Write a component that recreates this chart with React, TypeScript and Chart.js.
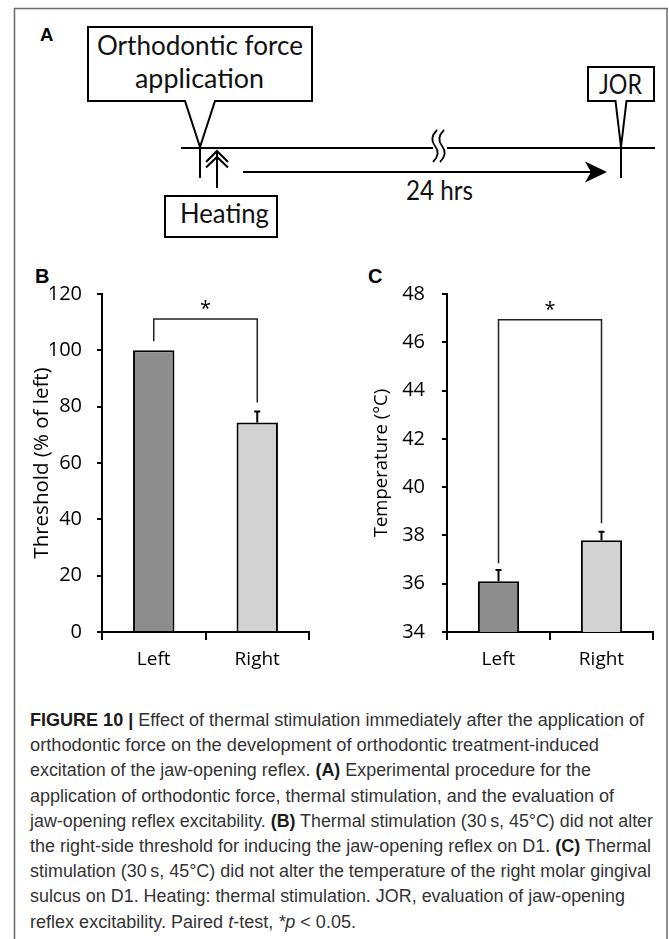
import React, { useEffect, useRef } from 'react';
import { Chart, registerables } from 'chart.js';

Chart.register(...registerables);

// ---------- data ----------
const categories = ['Left', 'Right'];
const barColors = ['#8d8d8d', '#d2d2d2'];

const thresholdValues = [100, 74.4];
const thresholdErrors = [0, 3.9];
// [left leg end, bracket level, right leg end]
const thresholdBracket = [103.2, 111.1, 81.5];
// [min, max, step]
const thresholdRange = [0, 120, 20];

const temperatureValues = [36.1, 37.8];
const temperatureErrors = [0.47, 0.35];
const temperatureBracket = [36.85, 46.93, 38.5];
const temperatureRange = [34, 48, 2];

const significanceMark = '*';

const captionLines: [string, string][][] = [
  [['b', 'FIGURE 10 |'], ['n', ' Effect of thermal stimulation immediately after the application of']],
  [['n', 'orthodontic force on the development of orthodontic treatment-induced']],
  [['n', 'excitation of the jaw-opening reflex. '], ['b', '(A)'], ['n', ' Experimental procedure for the']],
  [['n', 'application of orthodontic force, thermal stimulation, and the evaluation of']],
  [['n', 'jaw-opening reflex excitability. '], ['b', '(B)'], ['n', ' Thermal stimulation (30\u2009s, 45\u00b0C) did not alter']],
  [['n', 'the right-side threshold for inducing the jaw-opening reflex on D1. '], ['b', '(C)'], ['n', ' Thermal']],
  [['n', 'stimulation (30\u2009s, 45\u00b0C) did not alter the temperature of the right molar gingival']],
  [['n', 'sulcus on D1. Heating: thermal stimulation. JOR, evaluation of jaw-opening']],
  [['n', 'reflex excitability. Paired '], ['i', 't'], ['n', '-test, '], ['i', '*p'], ['n', ' < 0.05.']],
];
const captionEnds = [644, 599, 591, 614, 653, 651, 651, 625, 356];

// ---------- chart ----------
type Geo = {
  w: number; h: number; padTop: number; padRight: number;
  yWidth: number; xHeight: number; titlePad: number; tickPad: number; titleSize: number;
};

function makeChart(
  canvas: HTMLCanvasElement,
  values: number[],
  errors: number[],
  bracket: number[],
  range: number[],
  title: string,
  geo: Geo
) {
  const annot = {
    id: 'annot',
    afterDatasetsDraw(chart: any) {
      const { ctx, scales } = chart;
      const x = scales.x, y = scales.y;
      ctx.save();
      ctx.strokeStyle = '#000';
      ctx.lineCap = 'butt';
      // error bars
      ctx.lineWidth = 2;
      values.forEach((v, i) => {
        if (!errors[i]) return;
        const px = x.getPixelForValue(i);
        const top = y.getPixelForValue(v);
        const e = y.getPixelForValue(v + errors[i]);
        ctx.beginPath();
        ctx.moveTo(px, top);
        ctx.lineTo(px, e);
        ctx.moveTo(px - 3, e);
        ctx.lineTo(px + 3, e);
        ctx.stroke();
      });
      // significance bracket
      const x0 = x.getPixelForValue(0);
      const x1 = x.getPixelForValue(1);
      const yl = y.getPixelForValue(bracket[0]);
      const yb = y.getPixelForValue(bracket[1]);
      const yr = y.getPixelForValue(bracket[2]);
      ctx.lineWidth = 1.5;
      ctx.strokeStyle = '#222';
      ctx.beginPath();
      ctx.moveTo(x0, yl);
      ctx.lineTo(x0, yb);
      ctx.lineTo(x1, yb);
      ctx.lineTo(x1, yr);
      ctx.stroke();
      ctx.fillStyle = '#000';
      ctx.font = '20px "Open Sans"';
      ctx.textAlign = 'center';
      ctx.textBaseline = 'alphabetic';
      ctx.fillText(significanceMark, (x0 + x1) / 2, yb - 4);
      ctx.restore();
    },
  };

  return new Chart(canvas, {
    type: 'bar',
    data: {
      labels: categories,
      datasets: [
        {
          data: values,
          backgroundColor: barColors,
          borderColor: '#000',
          borderWidth: 2,
          barPercentage: 0.4,
          categoryPercentage: 1,
        },
      ],
    },
    options: {
      animation: false,
      responsive: false,
      layout: { padding: { top: geo.padTop, right: geo.padRight, left: 0, bottom: 0 } },
      plugins: { legend: { display: false }, tooltip: { enabled: false } },
      scales: {
        x: {
          grid: { drawOnChartArea: false, offset: true, tickLength: 8, color: '#000', lineWidth: 2 },
          border: { display: true, color: '#000', width: 2 },
          ticks: { font: { family: 'Open Sans', size: 19 }, color: '#000', padding: 8 },
          afterFit(s: any) { s.height = geo.xHeight; },
        },
        y: {
          min: range[0],
          max: range[1],
          ticks: { stepSize: range[2], font: { family: 'Open Sans', size: 20 }, color: '#000', padding: geo.tickPad },
          grid: { drawOnChartArea: false, tickLength: 5, color: '#000', lineWidth: 2 },
          border: { display: true, color: '#000', width: 2 },
          title: {
            display: true,
            text: title,
            font: { family: 'Open Sans', size: geo.titleSize },
            color: '#000',
            padding: { top: geo.titlePad, bottom: 0 },
          },
          afterFit(s: any) { s.width = geo.yWidth; },
        },
      },
    },
    plugins: [annot],
  } as any);
}

function BarPanel(props: {
  left: number; top: number; geo: Geo; values: number[]; errors: number[];
  bracket: number[]; range: number[]; title: string;
}) {
  const ref = useRef<HTMLCanvasElement>(null);
  useEffect(() => {
    if (!ref.current) return;
    const c = makeChart(ref.current, props.values, props.errors, props.bracket, props.range, props.title, props.geo);
    return () => c.destroy();
  }, []);
  return (
    <canvas
      ref={ref}
      width={props.geo.w}
      height={props.geo.h}
      style={{ position: 'absolute', left: props.left, top: props.top, width: props.geo.w, height: props.geo.h }}
    />
  );
}

const geoB: Geo = { w: 310, h: 425, padTop: 39, padRight: 21, yWidth: 82, xHeight: 48, titlePad: 9.5, tickPad: 15, titleSize: 20.5 };
const geoC: Geo = { w: 320, h: 425, padTop: 39, padRight: 12, yWidth: 102, xHeight: 48, titlePad: 25.5, tickPad: 17, titleSize: 18.5 };

const diagFont = 'Lato, "Open Sans", sans-serif';
const capFont = '"Liberation Sans", Arial, sans-serif';

export default function App() {
  const capStart = 30;
  const capBase0 = 726;
  const capStep = 25.2;
  return (
    <div style={{ position: 'absolute', left: 0, top: 0, width: 669, height: 939, overflow: 'hidden', background: '#fff' }}>
      <svg width={669} height={939} style={{ position: 'absolute', left: 0, top: 0 }}>
        {/* frame */}
        <g stroke="#6a6a6a" strokeWidth={1.5} fill="none">
          <line x1={14} y1={8.5} x2={667.5} y2={8.5} />
          <line x1={14.5} y1={8} x2={14.5} y2={939} />
          <line x1={667} y1={8} x2={667} y2={939} />
        </g>
        {/* panel A */}
        <text x={40} y={41} fontFamily={capFont} fontWeight="bold" fontSize={18.5} fill="#000">A</text>
        <g stroke="#000" strokeWidth={2} fill="none" strokeLinejoin="miter">
          <path d="M88,27 H312 V101 H215 L200,147 L185,101 H88 Z" fill="#fff" />
          <path d="M588,67 H654 V101 H626.5 L621,147 L615.5,101 H588 Z" fill="#fff" />
          <line x1={181} y1={148} x2={433} y2={148} />
          <line x1={447} y1={148} x2={655} y2={148} />
          <path d="M437,130 C431,136 431,141 435,146 C439,151 439,156 433,162" strokeWidth={1.8} />
          <path d="M444,130 C438,136 438,141 442,146 C446,151 446,156 440,162" strokeWidth={1.8} />
          <line x1={200} y1={148} x2={200} y2={178} />
          <line x1={621} y1={148} x2={621} y2={178} />
          <line x1={217} y1={152} x2={217} y2={188} />
          <path d="M206,162 L217,151 L228,162" />
          <path d="M206,167.5 L217,157 L228,167.5" />
          <line x1={243} y1={172} x2={592} y2={172} />
          <rect x={165} y={196} width={112} height={41} />
        </g>
        <path d="M607,172 L585,161.5 L591,172 L585,182.5 Z" fill="#000" />
        <g fontFamily={diagFont} fontSize={26} fill="#111">
          <text x={97} y={55} textLength={206} lengthAdjust="spacingAndGlyphs">Orthodontic force</text>
          <text x={135} y={88} textLength={129} lengthAdjust="spacingAndGlyphs">application</text>
          <text x={599} y={94} textLength={43} lengthAdjust="spacingAndGlyphs">JOR</text>
          <text x={406} y={200} textLength={67} lengthAdjust="spacingAndGlyphs">24 hrs</text>
          <text x={180} y={223} textLength={89} lengthAdjust="spacingAndGlyphs">Heating</text>
        </g>
        {/* panel labels */}
        <text x={35} y={283} fontFamily={capFont} fontWeight="bold" fontSize={20} fill="#000">B</text>
        <text x={368} y={283} fontFamily={capFont} fontWeight="bold" fontSize={20} fill="#000">C</text>
        {/* caption */}
        <g fontFamily={capFont} fontSize={17.5} fill="#333">
          {captionLines.map((segs, i) => (
            <text
              key={i}
              x={capStart}
              y={capBase0 + i * capStep}
              textLength={captionEnds[i] - capStart}
              lengthAdjust="spacingAndGlyphs"
              xmlSpace="preserve"
            >
              {segs.map(([k, s], j) => (
                <tspan
                  key={j}
                  fontWeight={k === 'b' ? 'bold' : 'normal'}
                  fontStyle={k === 'i' ? 'italic' : 'normal'}
                  fill={k === 'b' ? '#1a1a1a' : '#333'}
                >
                  {s}
                </tspan>
              ))}
            </text>
          ))}
        </g>
      </svg>
      <BarPanel left={20} top={255} geo={geoB} values={thresholdValues} errors={thresholdErrors}
        bracket={thresholdBracket} range={thresholdRange} title="Threshold (% of left)" />
      <BarPanel left={345} top={255} geo={geoC} values={temperatureValues} errors={temperatureErrors}
        bracket={temperatureBracket} range={temperatureRange} title="Temperature (°C)" />
    </div>
  );
}
